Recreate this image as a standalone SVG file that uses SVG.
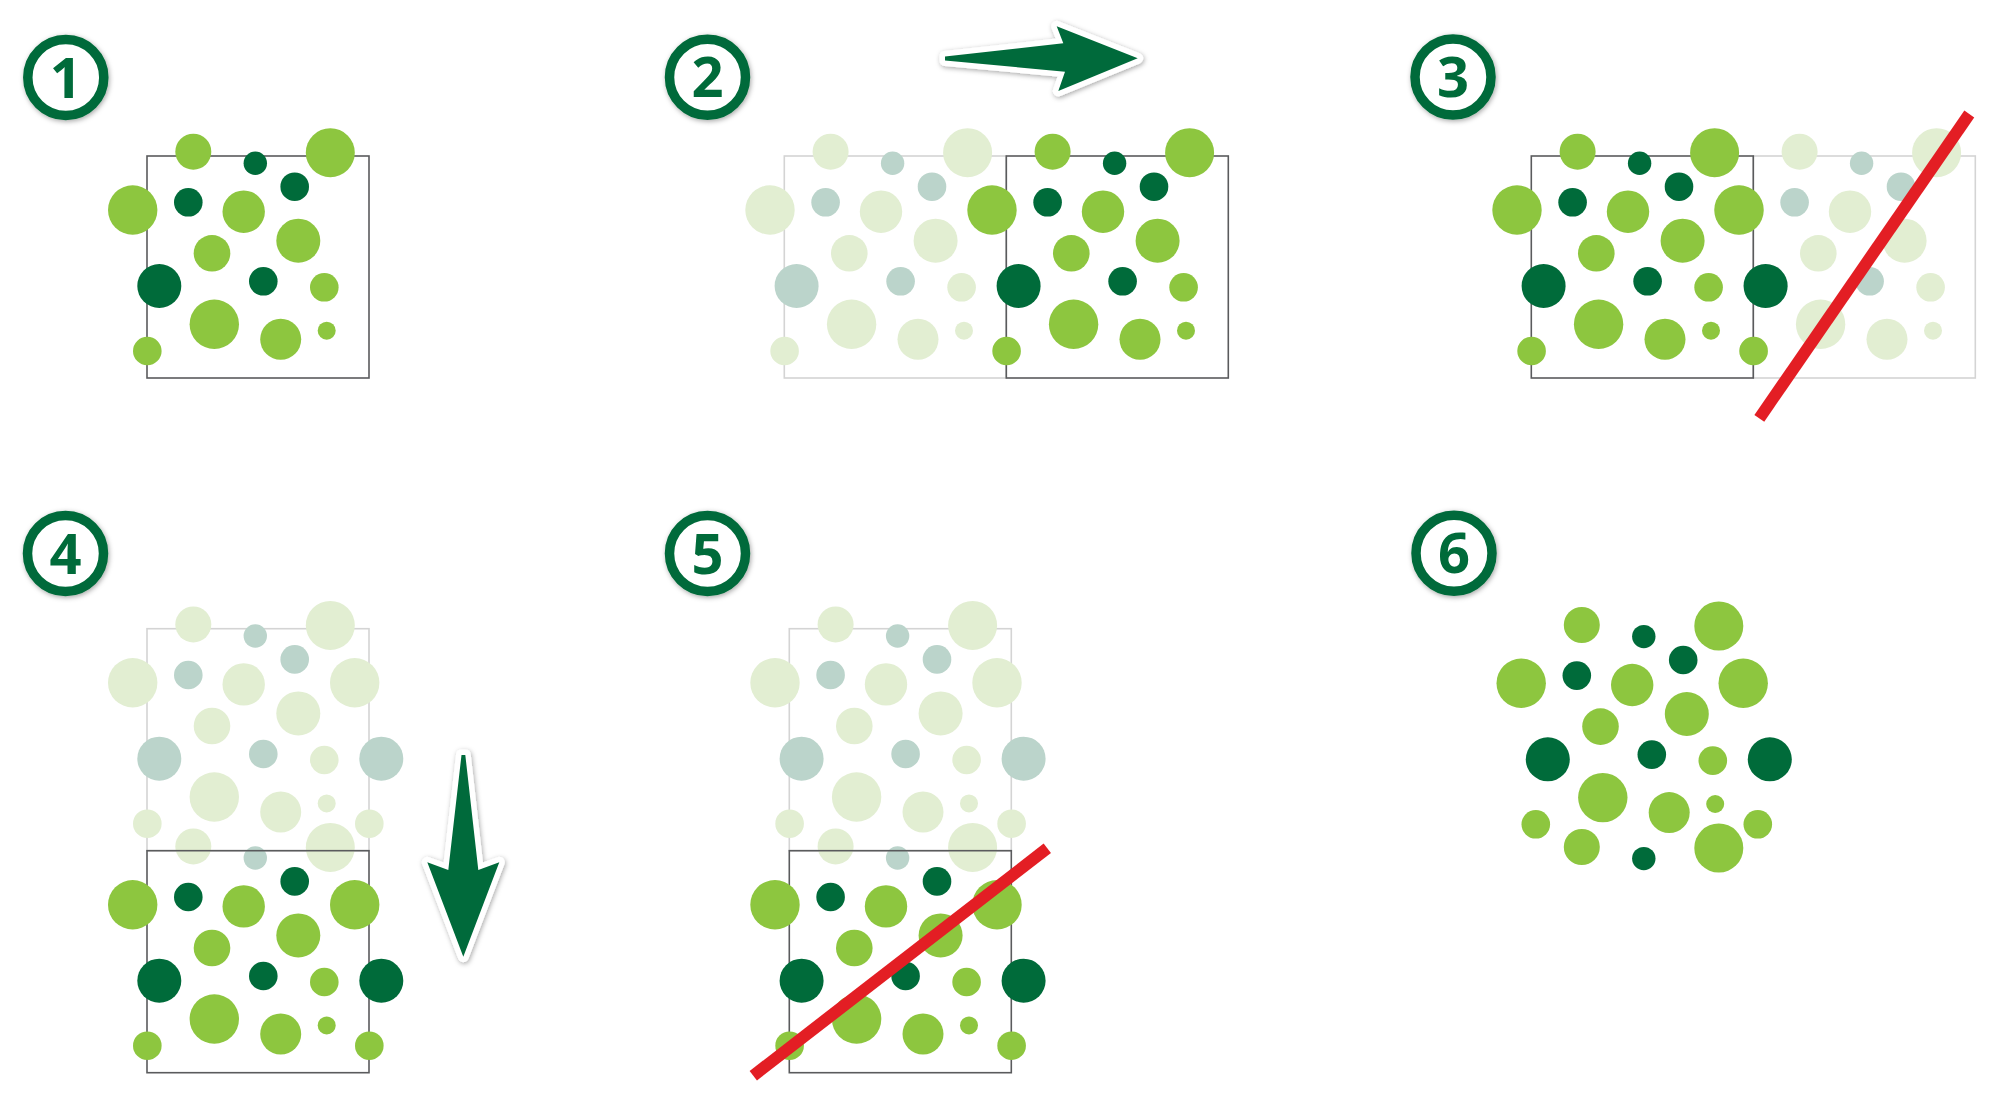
<svg xmlns="http://www.w3.org/2000/svg" xmlns:xlink="http://www.w3.org/1999/xlink" width="2000" height="1116" viewBox="0 0 2000 1116">
<style>
.s{fill:#8DC63F;color:#006B3A}
.f{fill:#E2EED2;color:#BBD4CB}
.sq{fill:none;stroke:#5A5B5D;stroke-width:1.6}
.fsq{fill:none;stroke:#D4D4D4;stroke-width:1.6}
.ring{fill:#fff;stroke:#006B3A;stroke-width:9.5}
.num{font-family:"Open Sans","Liberation Sans",sans-serif;font-weight:700;font-size:56px;fill:#006B3A;text-anchor:middle}
.red{stroke:#E31E24;stroke-width:12;stroke-linecap:butt}
.arrow{fill:#006B3A;stroke:#fff;stroke-width:11;stroke-linejoin:round;paint-order:stroke}
</style>
<defs>
<filter id="sh" x="-30%" y="-30%" width="160%" height="160%">
<feDropShadow dx="1" dy="1.5" stdDeviation="2.5" flood-color="#000" flood-opacity="0.35"/>
</filter>
<g id="top3">
<circle cx="46.3" cy="-4.3" r="18"/>
<circle cx="108.3" cy="7.3" r="11.7" fill="currentColor"/>
<circle cx="183.3" cy="-3.3" r="24.5"/>
</g>
<g id="body">
<circle cx="-14.3" cy="54" r="24.7"/>
<circle cx="41.3" cy="46.3" r="14.3" fill="currentColor"/>
<circle cx="96.7" cy="55.7" r="21.2"/>
<circle cx="147.7" cy="30.7" r="14.3" fill="currentColor"/>
<circle cx="151.3" cy="84.7" r="22"/>
<circle cx="65" cy="97.3" r="18.3"/>
<circle cx="12.3" cy="130" r="22" fill="currentColor"/>
<circle cx="116.3" cy="125.3" r="14.3" fill="currentColor"/>
<circle cx="177.3" cy="131.3" r="14.3"/>
<circle cx="67.3" cy="168.3" r="24.7"/>
<circle cx="133.7" cy="183.3" r="20.5"/>
<circle cx="179.7" cy="174.7" r="9"/>
<circle cx="0.3" cy="195" r="14.3"/>
</g>
<g id="exR">
<circle cx="207.7" cy="54" r="24.7"/>
<circle cx="234.3" cy="130" r="22" fill="currentColor"/>
<circle cx="222.3" cy="195" r="14.3"/>
</g>
</defs>
<rect width="2000" height="1116" fill="#fff"/>

<!-- Panel 1 -->
<g id="panel1">
<g transform="translate(147,156)">
<rect class="sq" width="222" height="222"/>
<use href="#top3" class="s"/><use href="#body" class="s"/>
</g>
</g>

<!-- Panel 2 -->
<g id="panel2">
<g transform="translate(784.3,156)">
<rect class="fsq" width="222" height="222"/>
<use href="#top3" class="f"/><use href="#body" class="f"/>
</g>
<g transform="translate(1006.3,156)">
<rect class="sq" width="222" height="222"/>
<use href="#top3" class="s"/><use href="#body" class="s"/>
</g>
</g>

<!-- Panel 3 -->
<g id="panel3">
<g transform="translate(1753.3,156)">
<rect class="fsq" width="222" height="222"/>
<use href="#top3" class="f"/><use href="#body" class="f"/>
</g>
<g transform="translate(1531.3,156)">
<rect class="sq" width="222" height="222"/>
<use href="#top3" class="s"/><use href="#body" class="s"/><use href="#exR" class="s"/>
</g>
<line class="red" x1="1759.3" y1="418.3" x2="1969.3" y2="114"/>
</g>

<!-- Panel 4 -->
<g id="panel4">
<g transform="translate(147,628.7)">
<rect class="fsq" width="222" height="222"/>
<use href="#top3" class="f"/><use href="#body" class="f"/><use href="#exR" class="f"/>
<use href="#top3" class="f" y="222"/>
</g>
<g transform="translate(147,850.7)">
<rect class="sq" width="222" height="222"/>
<use href="#body" class="s"/><use href="#exR" class="s"/>
</g>
</g>

<!-- Panel 5 -->
<g id="panel5">
<g transform="translate(789.3,628.7)">
<rect class="fsq" width="222" height="222"/>
<use href="#top3" class="f"/><use href="#body" class="f"/><use href="#exR" class="f"/>
<use href="#top3" class="f" y="222"/>
</g>
<g transform="translate(789.3,850.7)">
<rect class="sq" width="222" height="222"/>
<use href="#body" class="s"/><use href="#exR" class="s"/>
</g>
<line class="red" x1="753.3" y1="1075.7" x2="1047.3" y2="848.3"/>
</g>

<!-- Panel 6 -->
<g id="panel6">
<g transform="translate(1535.5,629.3)">
<use href="#top3" class="s"/><use href="#body" class="s"/><use href="#exR" class="s"/>
<use href="#top3" class="s" y="222"/>
</g>
</g>

<!-- Arrows -->
<g id="connectors">
<polygon id="arrow-right" class="arrow" filter="url(#sh)" points="945,56.5 1063.3,43.3 1056.7,26.3 1137.7,58.3 1058.3,91 1065,71.7 945,60.5"/>
<polygon id="arrow-down" class="arrow" filter="url(#sh)" points="461.5,755 465.3,755 478.3,870 499.3,862.3 463.3,956.7 427.3,862.3 448.3,870"/>
</g>

<!-- Badges -->
<g id="badge1" transform="translate(65.8,77.5)"><circle r="38" class="ring" filter="url(#sh)"/><text class="num" y="20">1</text></g>
<g id="badge2" transform="translate(707.5,77.2)"><circle r="38" class="ring" filter="url(#sh)"/><text class="num" y="20">2</text></g>
<g id="badge3" transform="translate(1453,77)"><circle r="38" class="ring" filter="url(#sh)"/><text class="num" y="20">3</text></g>
<g id="badge4" transform="translate(65.5,553.5)"><circle r="38" class="ring" filter="url(#sh)"/><text class="num" y="20">4</text></g>
<g id="badge5" transform="translate(707.5,553.5)"><circle r="38" class="ring" filter="url(#sh)"/><text class="num" y="20">5</text></g>
<g id="badge6" transform="translate(1454,553.3)"><circle r="38" class="ring" filter="url(#sh)"/><text class="num" y="20">6</text></g>
</svg>
